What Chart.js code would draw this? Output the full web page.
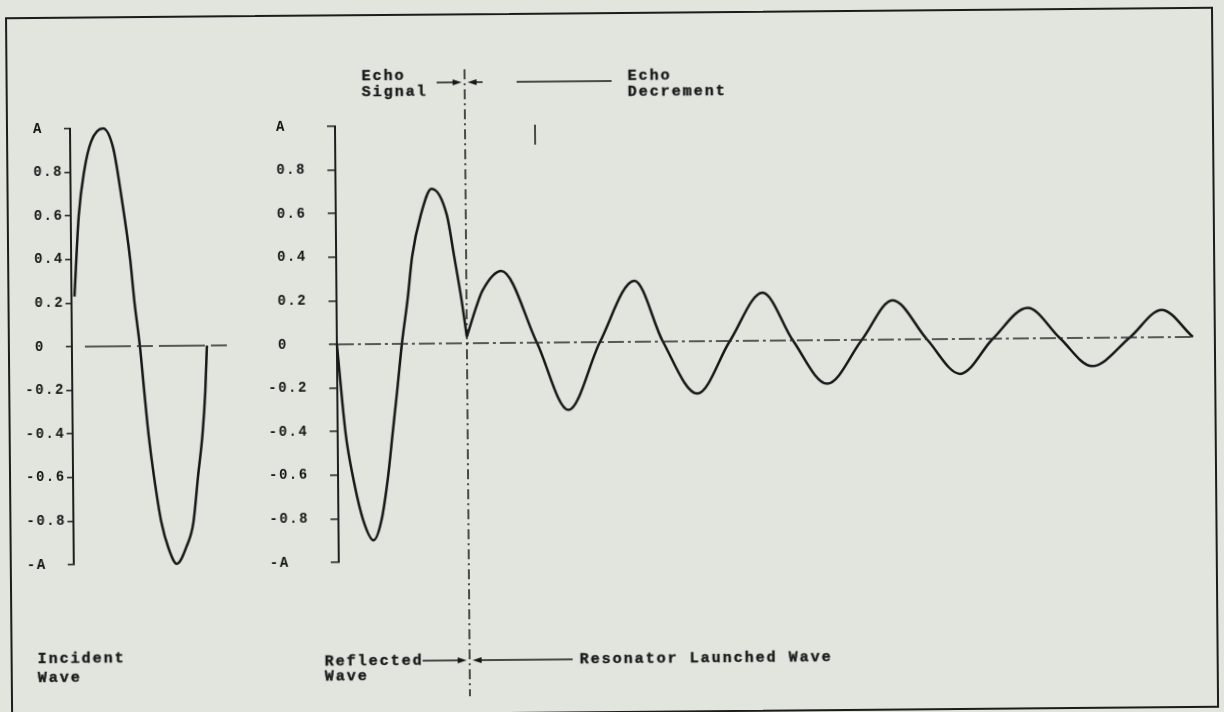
<!DOCTYPE html>
<html>
<head>
<meta charset="utf-8">
<title>Incident, reflected and resonator launched wave</title>
<script src="https://cdn.jsdelivr.net/npm/chart.js@4.4.1/dist/chart.umd.min.js"></script>
<style>
  html, body { margin: 0; padding: 0; background: #e2e5dd; overflow: hidden; }
  #sheet { position: relative; width: 1224px; height: 712px; transform: rotate(-0.5deg); transform-origin: 612px 356px; }
  canvas { position: absolute; top: 0; }
  #leftChart { left: 0; }
  #rightChart { left: 240px; }
  .frame { position: absolute; left: 8px; top: 12px; width: 1204px; height: 697px; border: 2px solid #1c1c1c; }
  .note { position: absolute; font-family: 'Liberation Mono', monospace; font-size: 15px; font-weight: bold;
          letter-spacing: 2px; color: #1a1a1a; white-space: pre; -webkit-text-stroke: 0.4px #1a1a1a; }
</style>
</head>
<body>
<div id="sheet">
  <div class="frame"></div>
  <canvas id="leftChart" width="240" height="712"></canvas>
  <canvas id="rightChart" width="984" height="712"></canvas>
  <div class="note" style="left:364px; top:67px; line-height:16px;">Echo
Signal</div>
  <div class="note" style="left:630px; top:69px; line-height:16px;">Echo
Decrement</div>
  <div class="note" style="left:35px; top:645px; line-height:19px;">Incident
Wave</div>
  <div class="note" style="left:322px; top:652px; line-height:15px;">Reflected
Wave</div>
  <div class="note" style="left:577px; top:652px; line-height:15px;">Resonator Launched Wave</div>
</div>
<script>
// amplitude ticks, in units of A
const TICK_VALUES = [-1, -0.8, -0.6, -0.4, -0.2, 0, 0.2, 0.4, 0.6, 0.8, 1];
const TICK_LABELS = ['-A', '-0.8', '-0.6', '-0.4', '-0.2', ' 0', ' 0.2', ' 0.4', ' 0.6', ' 0.8', ' A'];

// incident wave (time from its axis, arbitrary units)
const INCIDENT_T = [3, 8, 14, 21, 33, 43, 51, 59, 63, 68, 72, 76, 81, 88, 95, 103, 113, 120, 125, 130, 133, 135];
const INCIDENT_V = [0.23, 0.60, 0.81, 0.94, 1.0, 0.91, 0.68, 0.40, 0.20, 0, -0.21, -0.41, -0.60, -0.81, -0.93, -1.0, -0.92, -0.81, -0.60, -0.40, -0.21, 0];
const INCIDENT_BASE_T = [13, 155];

// reflected wave, up to the echo
const REFLECTED_T = [0, 8, 15, 25, 35, 43, 50, 55, 60, 65, 71, 76, 85, 96, 111, 118, 125, 130];
const REFLECTED_V = [0, -0.41, -0.61, -0.81, -0.90, -0.81, -0.61, -0.41, -0.21, 0, 0.20, 0.40, 0.59, 0.71, 0.59, 0.40, 0.20, 0.03];

// resonator launched (decaying) wave after the echo
const RESONATOR_T = [130, 140, 146, 165, 200, 231, 263, 298, 326, 360, 393, 426, 456, 490, 525, 556, 590, 623, 656, 691, 723, 755, 793, 825, 856];
const RESONATOR_V = [0.03, 0.17, 0.24, 0.33, 0, -0.31, 0, 0.28, 0, -0.24, 0, 0.22, 0, -0.20, 0, 0.18, 0, -0.16, 0, 0.14, 0, -0.13, 0, 0.125, 0];
const RIGHT_BASE_T = [1, 856];

const ECHO_T = 130;

const INK = '#171717';

const pts = (ts, vs) => ts.map((t, i) => ({ x: t, y: vs[i] }));
const flat = ts => ts.map(t => ({ x: t, y: 0 }));

function wave(data) {
    return {
        data: data,
        borderColor: INK,
        borderWidth: 2.5,
        pointRadius: 0,
        cubicInterpolationMode: 'monotone',
        clip: 6
    };
}

function baseLine(data, dash) {
    return {
        data: data,
        borderColor: '#2a2a2a',
        borderWidth: 1.5,
        borderDash: dash,
        pointRadius: 0,
        clip: 6
    };
}

function yAxis(width, tickLength, dash) {
    return {
        min: -1,
        max: 1,
        afterBuildTicks: s => { s.ticks = TICK_VALUES.map(v => ({ value: v })); },
        afterFit: s => { s.width = width; },
        ticks: {
            autoSkip: false,
            crossAlign: 'far',
            color: '#141414',
            font: { family: 'Liberation Mono', size: 14, weight: 'bold' },
            callback: (v, i) => TICK_LABELS[i]
        },
        grid: { drawOnChartArea: false, tickLength: tickLength, color: '#1e1e1e', lineWidth: 1.5 },
        border: { display: true, color: '#1e1e1e', width: 2, dash: dash }
    };
}

// typewriter spacing for the tick labels
const typewriter = {
    id: 'typewriter',
    beforeDraw(chart) { chart.ctx.letterSpacing = '1.5px'; }
};

function arrow(ctx, x1, y1, x2, y2) {
    const dir = Math.sign(x2 - x1);
    ctx.beginPath();
    ctx.moveTo(x1, y1);
    ctx.lineTo(x2 - dir * 6, y2);
    ctx.stroke();
    ctx.beginPath();
    ctx.moveTo(x2, y2);
    ctx.lineTo(x2 - dir * 9, y2 - 3);
    ctx.lineTo(x2 - dir * 9, y2 + 3);
    ctx.closePath();
    ctx.fill();
}

function seg(ctx, x1, y1, x2, y2) {
    ctx.beginPath();
    ctx.moveTo(x1, y1);
    ctx.lineTo(x2, y2);
    ctx.stroke();
}

const echoMarks = {
    id: 'echoMarks',
    afterDatasetsDraw(chart) {
        const ctx = chart.ctx;
        const ex = chart.scales.x.getPixelForValue(ECHO_T);
        ctx.save();
        ctx.strokeStyle = INK;
        ctx.fillStyle = INK;
        ctx.lineWidth = 1.5;
        ctx.setLineDash([10, 4, 2, 4]);
        seg(ctx, ex, 68, ex, 695);
        ctx.setLineDash([]);
        arrow(ctx, ex - 28, 81, ex - 3, 81);
        arrow(ctx, ex + 18, 81, ex + 3, 81);
        seg(ctx, ex + 52, 81, ex + 147, 81);
        seg(ctx, ex + 70, 124, ex + 70, 144);
        arrow(ctx, ex - 47, 659, ex - 3, 659);
        arrow(ctx, ex + 103, 659, ex + 3, 659);
        ctx.restore();
    }
};

const common = {
    responsive: false,
    animation: false,
    events: [],
    plugins: { legend: { display: false }, tooltip: { enabled: false } }
};

new Chart(document.getElementById('leftChart').getContext('2d'), {
    type: 'line',
    data: {
        datasets: [
            baseLine(flat(INCIDENT_BASE_T), [46, 6, 16, 6]),
            wave(pts(INCIDENT_T, INCIDENT_V))
        ]
    },
    options: Object.assign({}, common, {
        layout: { padding: { left: 25, right: 0, top: 124, bottom: 152 } },
        scales: {
            x: { type: 'linear', display: false, min: 0, max: 168 },
            y: yAxis(47, 6, [5, 3])
        }
    }),
    plugins: [typewriter]
});

new Chart(document.getElementById('rightChart').getContext('2d'), {
    type: 'line',
    data: {
        datasets: [
            baseLine(flat(RIGHT_BASE_T), [16, 4, 3, 4]),
            wave(pts(REFLECTED_T, REFLECTED_V)),
            wave(pts(RESONATOR_T, RESONATOR_V))
        ]
    },
    options: Object.assign({}, common, {
        layout: { padding: { left: 28, right: 0, top: 124, bottom: 152 } },
        scales: {
            x: { type: 'linear', display: false, min: 0, max: 887 },
            y: yAxis(69, 8, [16, 3, 2, 3])
        }
    }),
    plugins: [typewriter, echoMarks]
});
</script>
</body>
</html>
